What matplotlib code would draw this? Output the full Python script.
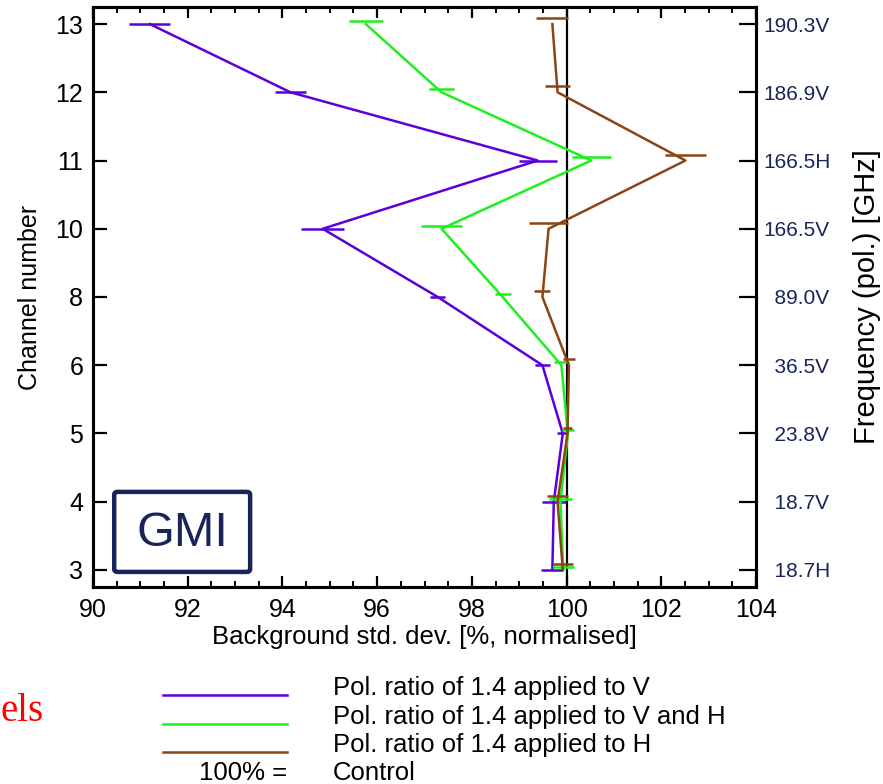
import numpy as np
import matplotlib
matplotlib.use('Agg')
import matplotlib.pyplot as plt
from matplotlib.lines import Line2D
from matplotlib.patches import FancyBboxPatch
from matplotlib.ticker import MultipleLocator

plt.rcParams['font.family'] = ['Liberation Sans', 'DejaVu Sans']

# channel numbers and their frequency / polarisation
channels = ['3', '4', '5', '6', '8', '10', '11', '12', '13']
freq_labels = ['  18.7H', '  18.7V', '  23.8V', '  36.5V', '  89.0V',
               '166.5V', '166.5H', '186.9V', '190.3V']

# background std. dev. [%, normalised] per channel
pol_v = [99.70, 99.73, 99.92, 99.49, 97.28, 94.85, 99.39, 94.17, 91.20]
pol_v_err = [0.23, 0.25, 0.12, 0.15, 0.16, 0.46, 0.40, 0.33, 0.43]
pol_vh = [99.93, 99.87, 100.03, 99.89, 98.65, 97.36, 100.52, 97.36, 95.76]
pol_vh_err = [0.22, 0.25, 0.12, 0.16, 0.17, 0.44, 0.41, 0.27, 0.36]
pol_h = [99.92, 99.81, 100.02, 100.05, 99.49, 99.62, 102.51, 99.81, 99.70]
pol_h_err = [0.21, 0.23, 0.10, 0.13, 0.17, 0.42, 0.44, 0.27, 0.34]

c_v = '#5a00d8'
c_vh = '#1ef01e'
c_h = '#8b4513'
navy = '#18245a'

W, H = 883, 784
fig = plt.figure(figsize=(W / 100, H / 100), dpi=100, facecolor='w')
ax = fig.add_axes([93 / W, 1 - 587 / H, (756 - 93) / W, (587 - 7) / H])

ypos = np.arange(len(channels))

# control level
ax.axvline(100, color='k', lw=1.6, zorder=1)

# error bars sit a little above the point for green and brown
series = [(pol_v, pol_v_err, c_v, 0.0),
          (pol_vh, pol_vh_err, c_vh, 0.045),
          (pol_h, pol_h_err, c_h, 0.085)]
for vals, errs, col, off in series:
    ax.plot(vals, ypos, color=col, lw=1.8, zorder=3)
    ax.errorbar(vals, ypos + off, xerr=errs, fmt='none', ecolor=col,
                elinewidth=1.8, capsize=0, zorder=3)

ax.set_xlim(90, 104)
ax.set_ylim(-0.25, 8.25)
ax.xaxis.set_major_locator(MultipleLocator(2))
ax.xaxis.set_minor_locator(MultipleLocator(0.5))
ax.set_yticks(ypos)
ax.set_yticklabels(channels)
ax.tick_params(axis='x', which='major', direction='in', length=8, width=1.6,
               top=True, labelsize=18, pad=8)
ax.tick_params(axis='x', which='minor', direction='in', length=4, width=1.4,
               top=True)
ax.tick_params(axis='y', direction='in', length=10, width=1.6, labelsize=18,
               pad=7)
for sp in ax.spines.values():
    sp.set_linewidth(2.2)

ax.set_xlabel('Background std. dev. [%, normalised]', fontsize=18.5,
              labelpad=2)
ax.set_ylabel('Channel number', fontsize=18, labelpad=10)

ax2 = ax.twinx()
ax2.set_ylim(ax.get_ylim())
ax2.set_yticks(ypos)
ax2.set_yticklabels(freq_labels, color=navy, ha='left')
ax2.tick_params(axis='y', direction='in', length=12, width=1.6, labelsize=15,
                pad=5)
ax2.set_ylabel('Frequency (pol.) [GHz]', fontsize=21, labelpad=16)
for sp in ax2.spines.values():
    sp.set_linewidth(2.2)

# instrument box
box = FancyBboxPatch((0.032, 0.026), 0.205, 0.138, transform=ax.transAxes,
                     boxstyle='round,pad=0,rounding_size=0.005',
                     fc='none', ec=navy, lw=3.2, zorder=4)
ax.add_patch(box)
ax.text(0.1345, 0.092, 'GMI', transform=ax.transAxes, fontsize=35,
        color=navy, ha='center', va='center')

# legend below the plot
leg_y = [695, 724, 752]
leg_txt = ['Pol. ratio of 1.4 applied to V',
           'Pol. ratio of 1.4 applied to V and H',
           'Pol. ratio of 1.4 applied to H']
for yy, col, txt in zip(leg_y, [c_v, c_vh, c_h], leg_txt):
    fig.add_artist(Line2D([163 / W, 287 / W], [1 - yy / H, 1 - yy / H],
                          color=col, lw=1.8))
    fig.text(333 / W, 1 - (yy - 7) / H, txt, fontsize=18.5, va='center')
fig.text(333 / W, 1 - 773 / H, 'Control', fontsize=18.5, va='center')
fig.text(287 / W, 1 - 773 / H, '100% =', fontsize=18.5, va='center',
         ha='right')

fig.text(1 / W, 1 - 721 / H, 'els', fontsize=28, color='red',
         family='Liberation Serif', ha='left', va='baseline')

fig.savefig('out.png', dpi=100)
